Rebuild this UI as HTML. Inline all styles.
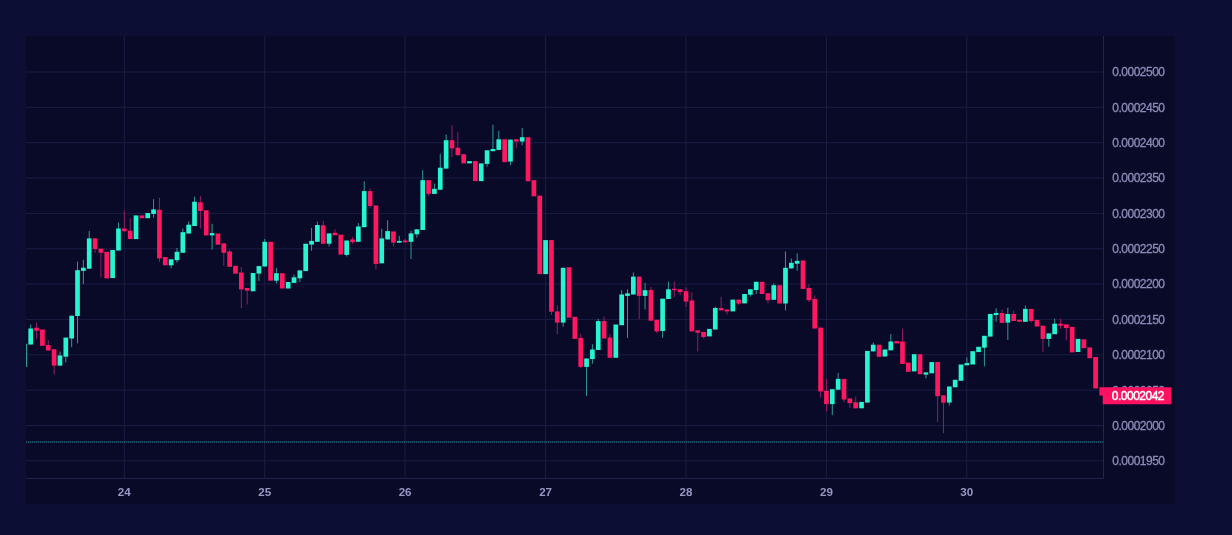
<!DOCTYPE html>
<html><head><meta charset="utf-8"><title>Chart</title>
<style>
html,body{margin:0;padding:0;background:#0c0e33;}
body{width:1232px;height:535px;overflow:hidden;position:relative;font-family:"Liberation Sans",sans-serif;}
svg{position:absolute;left:0;top:0;display:block;filter:blur(0.55px)}
text{font-family:"Liberation Sans",sans-serif;}
.yl{font-size:12px;letter-spacing:-0.5px;fill:#8b8db7;stroke:#8b8db7;stroke-width:0.3px;}
.xl{font-size:11.6px;font-weight:bold;fill:#9698c2;text-anchor:middle;}
.pl{font-size:12px;letter-spacing:-0.5px;fill:#ffffff;stroke:#ffffff;stroke-width:0.45px;}
</style></head><body>
<svg width="1232" height="535" viewBox="0 0 1232 535">
<rect x="0" y="0" width="1232" height="535" fill="#0c0e33"/>
<rect x="26" y="36" width="1149" height="468" fill="#090a28"/>
<defs><clipPath id="cp"><rect x="26" y="36" width="1077.5" height="442.4"/></clipPath></defs>

<g stroke="#1b1d43" stroke-width="1" fill="none">
<line x1="26" y1="72.00" x2="1103.5" y2="72.00"/>
<line x1="26" y1="107.35" x2="1103.5" y2="107.35"/>
<line x1="26" y1="142.70" x2="1103.5" y2="142.70"/>
<line x1="26" y1="178.05" x2="1103.5" y2="178.05"/>
<line x1="26" y1="213.40" x2="1103.5" y2="213.40"/>
<line x1="26" y1="248.75" x2="1103.5" y2="248.75"/>
<line x1="26" y1="284.10" x2="1103.5" y2="284.10"/>
<line x1="26" y1="319.45" x2="1103.5" y2="319.45"/>
<line x1="26" y1="354.80" x2="1103.5" y2="354.80"/>
<line x1="26" y1="390.15" x2="1103.5" y2="390.15"/>
<line x1="26" y1="425.50" x2="1103.5" y2="425.50"/>
<line x1="26" y1="460.85" x2="1103.5" y2="460.85"/>
<line x1="124.30" y1="36" x2="124.30" y2="478.4"/>
<line x1="264.72" y1="36" x2="264.72" y2="478.4"/>
<line x1="405.14" y1="36" x2="405.14" y2="478.4"/>
<line x1="545.56" y1="36" x2="545.56" y2="478.4"/>
<line x1="685.98" y1="36" x2="685.98" y2="478.4"/>
<line x1="826.40" y1="36" x2="826.40" y2="478.4"/>
<line x1="966.82" y1="36" x2="966.82" y2="478.4"/>
</g>
<g stroke="#232550" stroke-width="1" fill="none"><line x1="1103.5" y1="36" x2="1103.5" y2="478.4"/><line x1="26" y1="478.4" x2="1103.5" y2="478.4"/></g>
<line x1="26" y1="442" x2="1103.5" y2="442" stroke="#123650" stroke-width="1.2"/>
<line x1="26" y1="442" x2="1103.5" y2="442" stroke="#28788f" stroke-width="1.2" stroke-dasharray="1 1"/>
<g clip-path="url(#cp)">
<rect x="26" y="343.7" width="1.2" height="23.3" fill="#2f9891"/>
<rect x="30.20" y="324.5" width="1" height="20.0" fill="#2f9891"/>
<rect x="28.35" y="328.5" width="4.7" height="16.0" fill="#27f4d1"/>
<rect x="36.05" y="322.5" width="1" height="16.3" fill="#8f1e63"/>
<rect x="34.20" y="327.7" width="4.7" height="3.0" fill="#ff1761"/>
<rect x="40.05" y="329.5" width="4.7" height="16.3" fill="#ff1761"/>
<rect x="47.75" y="340.0" width="1" height="10.5" fill="#8f1e63"/>
<rect x="45.90" y="345.0" width="4.7" height="5.5" fill="#ff1761"/>
<rect x="53.61" y="349.3" width="1" height="25.2" fill="#8f1e63"/>
<rect x="51.76" y="349.3" width="4.7" height="16.3" fill="#ff1761"/>
<rect x="59.46" y="351.5" width="1" height="14.1" fill="#2f9891"/>
<rect x="57.61" y="355.5" width="4.7" height="10.1" fill="#27f4d1"/>
<rect x="65.31" y="337.6" width="1" height="24.8" fill="#2f9891"/>
<rect x="63.46" y="337.6" width="4.7" height="19.1" fill="#27f4d1"/>
<rect x="71.16" y="315.7" width="1" height="31.3" fill="#2f9891"/>
<rect x="69.31" y="315.7" width="4.7" height="22.8" fill="#27f4d1"/>
<rect x="77.01" y="261.6" width="1" height="81.7" fill="#2f9891"/>
<rect x="75.16" y="270.2" width="4.7" height="45.8" fill="#27f4d1"/>
<rect x="82.86" y="259.7" width="1" height="24.3" fill="#2f9891"/>
<rect x="81.01" y="267.7" width="4.7" height="3.2" fill="#27f4d1"/>
<rect x="88.71" y="230.9" width="1" height="37.8" fill="#2f9891"/>
<rect x="86.86" y="238.4" width="4.7" height="30.3" fill="#27f4d1"/>
<rect x="94.56" y="238.4" width="1" height="14.4" fill="#8f1e63"/>
<rect x="92.71" y="238.4" width="4.7" height="10.6" fill="#ff1761"/>
<rect x="100.41" y="248.7" width="1" height="28.9" fill="#8f1e63"/>
<rect x="98.56" y="248.7" width="4.7" height="4.1" fill="#ff1761"/>
<rect x="104.41" y="251.8" width="4.7" height="26.6" fill="#ff1761"/>
<rect x="110.27" y="250.0" width="4.7" height="28.0" fill="#27f4d1"/>
<rect x="117.97" y="222.5" width="1" height="28.0" fill="#2f9891"/>
<rect x="116.12" y="228.5" width="4.7" height="22.0" fill="#27f4d1"/>
<rect x="123.82" y="210.7" width="1" height="20.6" fill="#8f1e63"/>
<rect x="121.97" y="228.5" width="4.7" height="2.8" fill="#ff1761"/>
<rect x="129.67" y="218.2" width="1" height="20.9" fill="#8f1e63"/>
<rect x="127.82" y="230.7" width="4.7" height="8.4" fill="#ff1761"/>
<rect x="133.67" y="215.4" width="4.7" height="23.7" fill="#27f4d1"/>
<rect x="139.52" y="215.4" width="4.7" height="2.8" fill="#ff1761"/>
<rect x="145.37" y="213.0" width="4.7" height="5.2" fill="#27f4d1"/>
<rect x="153.07" y="199.1" width="1" height="18.7" fill="#2f9891"/>
<rect x="151.22" y="209.4" width="4.7" height="4.5" fill="#27f4d1"/>
<rect x="158.92" y="197.6" width="1" height="64.5" fill="#8f1e63"/>
<rect x="157.07" y="209.8" width="4.7" height="48.6" fill="#ff1761"/>
<rect x="162.92" y="257.0" width="4.7" height="8.3" fill="#ff1761"/>
<rect x="170.62" y="259.3" width="1" height="9.0" fill="#2f9891"/>
<rect x="168.78" y="259.3" width="4.7" height="6.0" fill="#27f4d1"/>
<rect x="176.48" y="248.0" width="1" height="14.7" fill="#2f9891"/>
<rect x="174.63" y="251.8" width="4.7" height="8.4" fill="#27f4d1"/>
<rect x="182.33" y="228.5" width="1" height="24.3" fill="#2f9891"/>
<rect x="180.48" y="232.2" width="4.7" height="20.6" fill="#27f4d1"/>
<rect x="188.18" y="221.5" width="1" height="12.0" fill="#2f9891"/>
<rect x="186.33" y="224.7" width="4.7" height="8.8" fill="#27f4d1"/>
<rect x="194.03" y="196.7" width="1" height="29.3" fill="#2f9891"/>
<rect x="192.18" y="201.7" width="4.7" height="24.3" fill="#27f4d1"/>
<rect x="199.88" y="195.7" width="1" height="32.8" fill="#8f1e63"/>
<rect x="198.03" y="202.3" width="4.7" height="8.7" fill="#ff1761"/>
<rect x="203.88" y="210.3" width="4.7" height="25.1" fill="#ff1761"/>
<rect x="211.58" y="223.8" width="1" height="25.8" fill="#2f9891"/>
<rect x="209.73" y="233.1" width="4.7" height="2.3" fill="#27f4d1"/>
<rect x="215.58" y="233.5" width="4.7" height="11.2" fill="#ff1761"/>
<rect x="223.28" y="243.4" width="1" height="22.5" fill="#8f1e63"/>
<rect x="221.43" y="243.4" width="4.7" height="9.4" fill="#ff1761"/>
<rect x="229.13" y="249.6" width="1" height="17.2" fill="#8f1e63"/>
<rect x="227.28" y="251.5" width="4.7" height="15.3" fill="#ff1761"/>
<rect x="233.14" y="265.9" width="4.7" height="7.8" fill="#ff1761"/>
<rect x="240.84" y="267.0" width="1" height="41.2" fill="#8f1e63"/>
<rect x="238.99" y="272.5" width="4.7" height="16.9" fill="#ff1761"/>
<rect x="246.69" y="288.0" width="1" height="16.4" fill="#8f1e63"/>
<rect x="244.84" y="288.0" width="4.7" height="2.6" fill="#ff1761"/>
<rect x="250.69" y="273.0" width="4.7" height="18.3" fill="#27f4d1"/>
<rect x="258.39" y="266.1" width="1" height="14.9" fill="#2f9891"/>
<rect x="256.54" y="266.1" width="4.7" height="7.5" fill="#27f4d1"/>
<rect x="264.24" y="239.0" width="1" height="27.5" fill="#2f9891"/>
<rect x="262.39" y="241.8" width="4.7" height="24.7" fill="#27f4d1"/>
<rect x="268.24" y="241.8" width="4.7" height="38.9" fill="#ff1761"/>
<rect x="275.94" y="268.0" width="1" height="15.3" fill="#2f9891"/>
<rect x="274.09" y="273.2" width="4.7" height="7.5" fill="#27f4d1"/>
<rect x="279.94" y="273.2" width="4.7" height="15.3" fill="#ff1761"/>
<rect x="285.80" y="282.0" width="4.7" height="6.5" fill="#27f4d1"/>
<rect x="293.50" y="274.5" width="1" height="8.4" fill="#2f9891"/>
<rect x="291.65" y="277.3" width="4.7" height="5.6" fill="#27f4d1"/>
<rect x="299.35" y="270.4" width="1" height="11.6" fill="#2f9891"/>
<rect x="297.50" y="270.4" width="4.7" height="7.9" fill="#27f4d1"/>
<rect x="303.35" y="243.7" width="4.7" height="27.4" fill="#27f4d1"/>
<rect x="311.05" y="227.8" width="1" height="23.0" fill="#2f9891"/>
<rect x="309.20" y="240.9" width="4.7" height="3.7" fill="#27f4d1"/>
<rect x="316.90" y="221.6" width="1" height="20.2" fill="#2f9891"/>
<rect x="315.05" y="225.0" width="4.7" height="16.8" fill="#27f4d1"/>
<rect x="322.75" y="220.8" width="1" height="22.9" fill="#8f1e63"/>
<rect x="320.90" y="225.3" width="4.7" height="18.4" fill="#ff1761"/>
<rect x="328.60" y="233.4" width="1" height="13.1" fill="#2f9891"/>
<rect x="326.75" y="233.4" width="4.7" height="10.3" fill="#27f4d1"/>
<rect x="334.45" y="229.3" width="1" height="5.9" fill="#8f1e63"/>
<rect x="332.60" y="232.8" width="4.7" height="2.4" fill="#ff1761"/>
<rect x="338.45" y="234.7" width="4.7" height="19.8" fill="#ff1761"/>
<rect x="346.16" y="240.5" width="1" height="15.9" fill="#2f9891"/>
<rect x="344.31" y="240.5" width="4.7" height="14.4" fill="#27f4d1"/>
<rect x="352.01" y="237.1" width="1" height="6.6" fill="#8f1e63"/>
<rect x="350.16" y="239.4" width="4.7" height="2.8" fill="#ff1761"/>
<rect x="357.86" y="223.1" width="1" height="18.7" fill="#2f9891"/>
<rect x="356.01" y="226.5" width="4.7" height="15.3" fill="#27f4d1"/>
<rect x="363.71" y="181.3" width="1" height="45.9" fill="#2f9891"/>
<rect x="361.86" y="191.1" width="4.7" height="36.1" fill="#27f4d1"/>
<rect x="369.56" y="188.3" width="1" height="20.0" fill="#8f1e63"/>
<rect x="367.71" y="191.1" width="4.7" height="14.9" fill="#ff1761"/>
<rect x="375.41" y="205.5" width="1" height="64.0" fill="#8f1e63"/>
<rect x="373.56" y="205.5" width="4.7" height="58.4" fill="#ff1761"/>
<rect x="381.26" y="228.7" width="1" height="34.6" fill="#2f9891"/>
<rect x="379.41" y="238.4" width="4.7" height="24.9" fill="#27f4d1"/>
<rect x="387.11" y="220.3" width="1" height="19.1" fill="#2f9891"/>
<rect x="385.26" y="231.1" width="4.7" height="8.3" fill="#27f4d1"/>
<rect x="392.96" y="231.5" width="1" height="15.0" fill="#8f1e63"/>
<rect x="391.11" y="231.5" width="4.7" height="11.2" fill="#ff1761"/>
<rect x="398.81" y="235.8" width="1" height="6.9" fill="#2f9891"/>
<rect x="396.96" y="240.9" width="4.7" height="1.8" fill="#27f4d1"/>
<rect x="404.67" y="239.0" width="1" height="3.3" fill="#8f1e63"/>
<rect x="402.81" y="240.5" width="4.7" height="1.8" fill="#ff1761"/>
<rect x="410.52" y="230.6" width="1" height="28.4" fill="#2f9891"/>
<rect x="408.67" y="233.4" width="4.7" height="8.4" fill="#27f4d1"/>
<rect x="416.37" y="229.3" width="1" height="8.4" fill="#2f9891"/>
<rect x="414.52" y="229.3" width="4.7" height="5.0" fill="#27f4d1"/>
<rect x="422.22" y="170.1" width="1" height="59.9" fill="#2f9891"/>
<rect x="420.37" y="180.2" width="4.7" height="49.8" fill="#27f4d1"/>
<rect x="428.07" y="180.2" width="1" height="16.1" fill="#8f1e63"/>
<rect x="426.22" y="180.2" width="4.7" height="13.7" fill="#ff1761"/>
<rect x="433.92" y="183.6" width="1" height="10.3" fill="#2f9891"/>
<rect x="432.07" y="188.8" width="4.7" height="5.1" fill="#27f4d1"/>
<rect x="439.77" y="153.7" width="1" height="36.0" fill="#2f9891"/>
<rect x="437.92" y="167.7" width="4.7" height="22.0" fill="#27f4d1"/>
<rect x="445.62" y="134.6" width="1" height="34.0" fill="#2f9891"/>
<rect x="443.77" y="140.2" width="4.7" height="28.4" fill="#27f4d1"/>
<rect x="451.47" y="125.2" width="1" height="32.2" fill="#8f1e63"/>
<rect x="449.62" y="140.2" width="4.7" height="8.2" fill="#ff1761"/>
<rect x="457.32" y="132.2" width="1" height="23.0" fill="#8f1e63"/>
<rect x="455.47" y="147.7" width="4.7" height="7.5" fill="#ff1761"/>
<rect x="461.32" y="154.2" width="4.7" height="9.2" fill="#ff1761"/>
<rect x="467.18" y="161.1" width="4.7" height="2.3" fill="#27f4d1"/>
<rect x="473.03" y="161.1" width="4.7" height="20.0" fill="#ff1761"/>
<rect x="478.88" y="163.4" width="4.7" height="17.7" fill="#27f4d1"/>
<rect x="486.58" y="150.3" width="1" height="16.4" fill="#2f9891"/>
<rect x="484.73" y="150.3" width="4.7" height="13.6" fill="#27f4d1"/>
<rect x="492.43" y="124.7" width="1" height="26.5" fill="#2f9891"/>
<rect x="490.58" y="149.0" width="4.7" height="2.2" fill="#27f4d1"/>
<rect x="498.28" y="130.8" width="1" height="19.1" fill="#2f9891"/>
<rect x="496.43" y="139.3" width="4.7" height="10.6" fill="#27f4d1"/>
<rect x="502.28" y="139.3" width="4.7" height="22.8" fill="#ff1761"/>
<rect x="509.98" y="139.6" width="1" height="25.7" fill="#2f9891"/>
<rect x="508.13" y="139.6" width="4.7" height="21.9" fill="#27f4d1"/>
<rect x="515.83" y="139.3" width="1" height="8.7" fill="#8f1e63"/>
<rect x="513.98" y="139.3" width="4.7" height="2.2" fill="#ff1761"/>
<rect x="521.68" y="128.0" width="1" height="17.2" fill="#2f9891"/>
<rect x="519.83" y="137.2" width="4.7" height="4.3" fill="#27f4d1"/>
<rect x="525.69" y="137.2" width="4.7" height="44.1" fill="#ff1761"/>
<rect x="531.54" y="180.2" width="4.7" height="16.1" fill="#ff1761"/>
<rect x="537.39" y="195.6" width="4.7" height="78.5" fill="#ff1761"/>
<rect x="543.24" y="240.1" width="4.7" height="34.0" fill="#27f4d1"/>
<rect x="550.94" y="240.1" width="1" height="75.0" fill="#8f1e63"/>
<rect x="549.09" y="240.1" width="4.7" height="71.6" fill="#ff1761"/>
<rect x="556.79" y="305.2" width="1" height="29.0" fill="#8f1e63"/>
<rect x="554.94" y="311.4" width="4.7" height="11.2" fill="#ff1761"/>
<rect x="562.64" y="267.8" width="1" height="58.9" fill="#2f9891"/>
<rect x="560.79" y="267.8" width="4.7" height="54.8" fill="#27f4d1"/>
<rect x="566.64" y="267.2" width="4.7" height="50.5" fill="#ff1761"/>
<rect x="572.49" y="316.8" width="4.7" height="22.1" fill="#ff1761"/>
<rect x="580.20" y="334.2" width="1" height="33.8" fill="#8f1e63"/>
<rect x="578.35" y="337.9" width="4.7" height="29.0" fill="#ff1761"/>
<rect x="586.05" y="358.5" width="1" height="37.6" fill="#2f9891"/>
<rect x="584.20" y="358.5" width="4.7" height="8.4" fill="#27f4d1"/>
<rect x="591.90" y="344.2" width="1" height="19.5" fill="#2f9891"/>
<rect x="590.05" y="349.5" width="4.7" height="9.5" fill="#27f4d1"/>
<rect x="597.75" y="318.9" width="1" height="31.1" fill="#2f9891"/>
<rect x="595.90" y="321.1" width="4.7" height="28.9" fill="#27f4d1"/>
<rect x="603.60" y="316.4" width="1" height="22.1" fill="#8f1e63"/>
<rect x="601.75" y="321.1" width="4.7" height="17.4" fill="#ff1761"/>
<rect x="609.45" y="334.2" width="1" height="23.6" fill="#8f1e63"/>
<rect x="607.60" y="337.6" width="4.7" height="20.2" fill="#ff1761"/>
<rect x="613.45" y="324.5" width="4.7" height="33.3" fill="#27f4d1"/>
<rect x="621.15" y="290.2" width="1" height="35.0" fill="#2f9891"/>
<rect x="619.30" y="294.5" width="4.7" height="30.7" fill="#27f4d1"/>
<rect x="627.00" y="289.3" width="1" height="48.6" fill="#2f9891"/>
<rect x="625.15" y="293.4" width="4.7" height="2.5" fill="#27f4d1"/>
<rect x="632.85" y="272.5" width="1" height="22.0" fill="#2f9891"/>
<rect x="631.00" y="276.6" width="4.7" height="17.9" fill="#27f4d1"/>
<rect x="638.71" y="276.6" width="1" height="42.6" fill="#8f1e63"/>
<rect x="636.86" y="276.6" width="4.7" height="19.3" fill="#ff1761"/>
<rect x="644.56" y="282.8" width="1" height="26.7" fill="#2f9891"/>
<rect x="642.71" y="290.2" width="4.7" height="5.7" fill="#27f4d1"/>
<rect x="650.41" y="287.1" width="1" height="33.6" fill="#8f1e63"/>
<rect x="648.56" y="289.9" width="4.7" height="30.8" fill="#ff1761"/>
<rect x="656.26" y="319.8" width="1" height="13.4" fill="#8f1e63"/>
<rect x="654.41" y="319.8" width="4.7" height="11.6" fill="#ff1761"/>
<rect x="662.11" y="298.7" width="1" height="39.2" fill="#2f9891"/>
<rect x="660.26" y="298.7" width="4.7" height="32.3" fill="#27f4d1"/>
<rect x="667.96" y="281.8" width="1" height="17.2" fill="#2f9891"/>
<rect x="666.11" y="289.3" width="4.7" height="9.7" fill="#27f4d1"/>
<rect x="673.81" y="281.5" width="1" height="15.7" fill="#8f1e63"/>
<rect x="671.96" y="288.7" width="4.7" height="1.5" fill="#ff1761"/>
<rect x="679.66" y="289.3" width="1" height="6.0" fill="#8f1e63"/>
<rect x="677.81" y="289.3" width="4.7" height="2.8" fill="#ff1761"/>
<rect x="685.51" y="287.4" width="1" height="19.7" fill="#8f1e63"/>
<rect x="683.66" y="291.2" width="4.7" height="10.3" fill="#ff1761"/>
<rect x="691.36" y="292.1" width="1" height="39.3" fill="#8f1e63"/>
<rect x="689.51" y="300.5" width="4.7" height="30.9" fill="#ff1761"/>
<rect x="697.22" y="330.4" width="1" height="21.0" fill="#8f1e63"/>
<rect x="695.37" y="330.4" width="4.7" height="2.3" fill="#ff1761"/>
<rect x="703.07" y="331.9" width="1" height="6.4" fill="#8f1e63"/>
<rect x="701.22" y="331.9" width="4.7" height="5.1" fill="#ff1761"/>
<rect x="707.07" y="328.9" width="4.7" height="7.5" fill="#27f4d1"/>
<rect x="714.77" y="306.5" width="1" height="23.0" fill="#2f9891"/>
<rect x="712.92" y="308.0" width="4.7" height="21.5" fill="#27f4d1"/>
<rect x="720.62" y="296.8" width="1" height="13.6" fill="#8f1e63"/>
<rect x="718.77" y="308.0" width="4.7" height="2.4" fill="#ff1761"/>
<rect x="726.47" y="309.5" width="1" height="5.1" fill="#8f1e63"/>
<rect x="724.62" y="309.5" width="4.7" height="1.9" fill="#ff1761"/>
<rect x="730.47" y="299.6" width="4.7" height="11.8" fill="#27f4d1"/>
<rect x="738.17" y="299.6" width="1" height="5.6" fill="#8f1e63"/>
<rect x="736.32" y="299.6" width="4.7" height="4.0" fill="#ff1761"/>
<rect x="742.17" y="294.0" width="4.7" height="9.4" fill="#27f4d1"/>
<rect x="749.87" y="289.3" width="1" height="7.3" fill="#2f9891"/>
<rect x="748.02" y="289.3" width="4.7" height="5.4" fill="#27f4d1"/>
<rect x="755.73" y="281.8" width="1" height="12.2" fill="#2f9891"/>
<rect x="753.88" y="281.8" width="4.7" height="8.2" fill="#27f4d1"/>
<rect x="759.73" y="281.8" width="4.7" height="12.2" fill="#ff1761"/>
<rect x="767.43" y="293.2" width="1" height="10.1" fill="#8f1e63"/>
<rect x="765.58" y="293.2" width="4.7" height="7.0" fill="#ff1761"/>
<rect x="773.28" y="283.3" width="1" height="16.5" fill="#2f9891"/>
<rect x="771.43" y="285.2" width="4.7" height="14.6" fill="#27f4d1"/>
<rect x="777.28" y="285.2" width="4.7" height="18.3" fill="#ff1761"/>
<rect x="784.98" y="251.5" width="1" height="58.9" fill="#2f9891"/>
<rect x="783.13" y="267.8" width="4.7" height="35.7" fill="#27f4d1"/>
<rect x="790.83" y="258.5" width="1" height="9.9" fill="#2f9891"/>
<rect x="788.98" y="262.8" width="4.7" height="5.6" fill="#27f4d1"/>
<rect x="796.68" y="253.4" width="1" height="17.4" fill="#2f9891"/>
<rect x="794.83" y="260.9" width="4.7" height="2.8" fill="#27f4d1"/>
<rect x="800.68" y="260.5" width="4.7" height="28.4" fill="#ff1761"/>
<rect x="808.38" y="284.3" width="1" height="17.7" fill="#8f1e63"/>
<rect x="806.53" y="288.0" width="4.7" height="12.2" fill="#ff1761"/>
<rect x="814.24" y="295.5" width="1" height="33.0" fill="#8f1e63"/>
<rect x="812.38" y="298.9" width="4.7" height="29.6" fill="#ff1761"/>
<rect x="820.09" y="327.6" width="1" height="70.0" fill="#8f1e63"/>
<rect x="818.24" y="327.6" width="4.7" height="63.8" fill="#ff1761"/>
<rect x="825.94" y="378.9" width="1" height="32.7" fill="#8f1e63"/>
<rect x="824.09" y="390.7" width="4.7" height="13.4" fill="#ff1761"/>
<rect x="831.79" y="389.2" width="1" height="25.8" fill="#2f9891"/>
<rect x="829.94" y="389.2" width="4.7" height="14.9" fill="#27f4d1"/>
<rect x="837.64" y="372.9" width="1" height="16.8" fill="#2f9891"/>
<rect x="835.79" y="378.9" width="4.7" height="10.8" fill="#27f4d1"/>
<rect x="843.49" y="378.9" width="1" height="23.4" fill="#8f1e63"/>
<rect x="841.64" y="378.9" width="4.7" height="20.6" fill="#ff1761"/>
<rect x="849.34" y="398.5" width="1" height="9.4" fill="#8f1e63"/>
<rect x="847.49" y="398.5" width="4.7" height="4.7" fill="#ff1761"/>
<rect x="855.19" y="396.7" width="1" height="11.6" fill="#8f1e63"/>
<rect x="853.34" y="402.3" width="4.7" height="6.0" fill="#ff1761"/>
<rect x="859.19" y="401.9" width="4.7" height="6.4" fill="#27f4d1"/>
<rect x="865.04" y="350.9" width="4.7" height="51.7" fill="#27f4d1"/>
<rect x="872.75" y="342.4" width="1" height="9.0" fill="#2f9891"/>
<rect x="870.89" y="344.7" width="4.7" height="6.7" fill="#27f4d1"/>
<rect x="876.75" y="344.7" width="4.7" height="12.1" fill="#ff1761"/>
<rect x="882.60" y="349.5" width="4.7" height="7.0" fill="#27f4d1"/>
<rect x="890.30" y="334.0" width="1" height="16.3" fill="#2f9891"/>
<rect x="888.45" y="341.5" width="4.7" height="8.8" fill="#27f4d1"/>
<rect x="894.30" y="341.1" width="4.7" height="2.3" fill="#ff1761"/>
<rect x="902.00" y="329.0" width="1" height="34.9" fill="#8f1e63"/>
<rect x="900.15" y="341.5" width="4.7" height="22.4" fill="#ff1761"/>
<rect x="906.00" y="362.6" width="4.7" height="9.2" fill="#ff1761"/>
<rect x="911.85" y="354.2" width="4.7" height="17.2" fill="#27f4d1"/>
<rect x="917.70" y="354.2" width="4.7" height="20.0" fill="#ff1761"/>
<rect x="925.40" y="372.4" width="1" height="5.9" fill="#2f9891"/>
<rect x="923.55" y="372.4" width="4.7" height="2.2" fill="#27f4d1"/>
<rect x="929.40" y="362.1" width="4.7" height="11.2" fill="#27f4d1"/>
<rect x="937.11" y="362.0" width="1" height="60.4" fill="#8f1e63"/>
<rect x="935.26" y="362.0" width="4.7" height="34.2" fill="#ff1761"/>
<rect x="942.96" y="395.4" width="1" height="37.9" fill="#8f1e63"/>
<rect x="941.11" y="395.4" width="4.7" height="7.2" fill="#ff1761"/>
<rect x="948.81" y="386.5" width="1" height="19.1" fill="#2f9891"/>
<rect x="946.96" y="386.5" width="4.7" height="16.1" fill="#27f4d1"/>
<rect x="952.81" y="379.8" width="4.7" height="7.5" fill="#27f4d1"/>
<rect x="958.66" y="364.5" width="4.7" height="16.3" fill="#27f4d1"/>
<rect x="966.36" y="357.4" width="1" height="7.9" fill="#2f9891"/>
<rect x="964.51" y="363.1" width="4.7" height="2.2" fill="#27f4d1"/>
<rect x="970.36" y="351.2" width="4.7" height="13.3" fill="#27f4d1"/>
<rect x="976.21" y="346.8" width="4.7" height="5.3" fill="#27f4d1"/>
<rect x="983.91" y="335.8" width="1" height="30.4" fill="#2f9891"/>
<rect x="982.06" y="335.8" width="4.7" height="11.9" fill="#27f4d1"/>
<rect x="987.91" y="314.0" width="4.7" height="22.6" fill="#27f4d1"/>
<rect x="995.62" y="308.3" width="1" height="13.5" fill="#2f9891"/>
<rect x="993.77" y="313.0" width="4.7" height="2.1" fill="#27f4d1"/>
<rect x="1001.47" y="309.4" width="1" height="13.5" fill="#8f1e63"/>
<rect x="999.62" y="313.0" width="4.7" height="9.9" fill="#ff1761"/>
<rect x="1007.32" y="307.8" width="1" height="32.2" fill="#2f9891"/>
<rect x="1005.47" y="314.0" width="4.7" height="8.6" fill="#27f4d1"/>
<rect x="1013.17" y="310.5" width="1" height="10.5" fill="#8f1e63"/>
<rect x="1011.32" y="314.0" width="4.7" height="7.0" fill="#ff1761"/>
<rect x="1017.17" y="319.8" width="4.7" height="2.0" fill="#ff1761"/>
<rect x="1024.87" y="305.5" width="1" height="16.3" fill="#2f9891"/>
<rect x="1023.02" y="308.9" width="4.7" height="12.9" fill="#27f4d1"/>
<rect x="1030.72" y="308.9" width="1" height="13.7" fill="#8f1e63"/>
<rect x="1028.87" y="308.9" width="4.7" height="12.1" fill="#ff1761"/>
<rect x="1034.72" y="319.9" width="4.7" height="6.6" fill="#ff1761"/>
<rect x="1042.42" y="325.7" width="1" height="26.3" fill="#8f1e63"/>
<rect x="1040.57" y="325.7" width="4.7" height="13.2" fill="#ff1761"/>
<rect x="1048.27" y="333.4" width="1" height="13.2" fill="#2f9891"/>
<rect x="1046.42" y="333.4" width="4.7" height="5.5" fill="#27f4d1"/>
<rect x="1054.13" y="318.7" width="1" height="15.5" fill="#2f9891"/>
<rect x="1052.28" y="323.7" width="4.7" height="10.5" fill="#27f4d1"/>
<rect x="1059.98" y="318.7" width="1" height="10.1" fill="#8f1e63"/>
<rect x="1058.13" y="323.7" width="4.7" height="2.0" fill="#ff1761"/>
<rect x="1065.83" y="324.4" width="1" height="16.0" fill="#8f1e63"/>
<rect x="1063.98" y="324.4" width="4.7" height="3.6" fill="#ff1761"/>
<rect x="1069.83" y="326.9" width="4.7" height="25.5" fill="#ff1761"/>
<rect x="1075.68" y="338.9" width="4.7" height="13.1" fill="#27f4d1"/>
<rect x="1081.53" y="339.3" width="4.7" height="8.9" fill="#ff1761"/>
<rect x="1087.38" y="347.4" width="4.7" height="10.8" fill="#ff1761"/>
<rect x="1093.23" y="357.0" width="4.7" height="31.4" fill="#ff1761"/>
</g>
<text class="yl" x="1112.3" y="76.3">0.0002500</text>
<text class="yl" x="1112.3" y="111.6">0.0002450</text>
<text class="yl" x="1112.3" y="147.0">0.0002400</text>
<text class="yl" x="1112.3" y="182.4">0.0002350</text>
<text class="yl" x="1112.3" y="217.7">0.0002300</text>
<text class="yl" x="1112.3" y="253.1">0.0002250</text>
<text class="yl" x="1112.3" y="288.4">0.0002200</text>
<text class="yl" x="1112.3" y="323.8">0.0002150</text>
<text class="yl" x="1112.3" y="359.1">0.0002100</text>
<text class="yl" x="1112.3" y="394.5">0.0002050</text>
<text class="yl" x="1112.3" y="429.8">0.0002000</text>
<text class="yl" x="1112.3" y="465.2">0.0001950</text>
<text class="xl" x="124.3" y="496.3">24</text>
<text class="xl" x="264.7" y="496.3">25</text>
<text class="xl" x="405.1" y="496.3">26</text>
<text class="xl" x="545.6" y="496.3">27</text>
<text class="xl" x="686.0" y="496.3">28</text>
<text class="xl" x="826.4" y="496.3">29</text>
<text class="xl" x="966.8" y="496.3">30</text>
<path d="M1099.4 387.2 H1171.3 V404.2 H1102.7 V395.6 H1099.4 Z" fill="#ff1060"/>
<text class="pl" x="1111.8" y="400">0.0002042</text>
</svg></body></html>
